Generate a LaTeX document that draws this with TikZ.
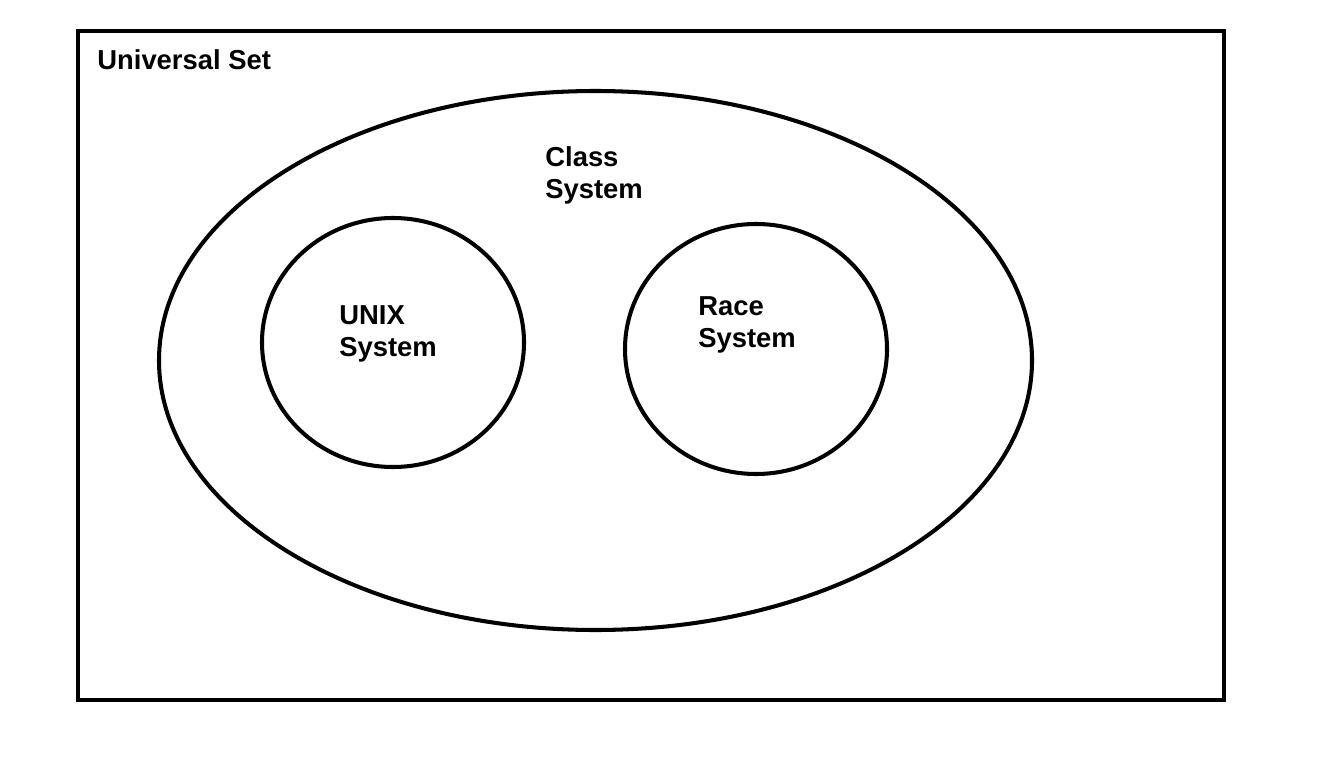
\documentclass[tikz,border=0pt]{standalone}
\usepackage{fontspec}
\setmainfont{Liberation Sans}
\usetikzlibrary{positioning}
\tikzset{
  setline/.style={draw=black,line width=2.3pt},
  setlabel/.style={anchor=north west,inner sep=0pt,align=left,
                   font=\fontsize{15.6}{18.2}\selectfont\bfseries}
}

\begin{document}
\begin{tikzpicture}[x=0.02cm,y=-0.02cm]
\useasboundingbox (0,0) rectangle (1334,763);
% sets
\draw[setline] (78,31) rectangle (1224,700);
\draw[setline] (595.5,360.5) ellipse [x radius=436.5,y radius=269.5];
\draw[setline] (393,342.5) ellipse [x radius=131,y radius=124.5];
\draw[setline] (756,349) ellipse [x radius=131,y radius=125];

% labels
\node[setlabel] (univ) at (97,49)  {Universal Set};
\node[setlabel] (cls)  at (545,146) {Class\\System};
\node[setlabel] (unix) at (339,305) {UNIX\\System};
\node[setlabel] (race) at (698,296) {Race\\System};
\end{tikzpicture}
\end{document}
